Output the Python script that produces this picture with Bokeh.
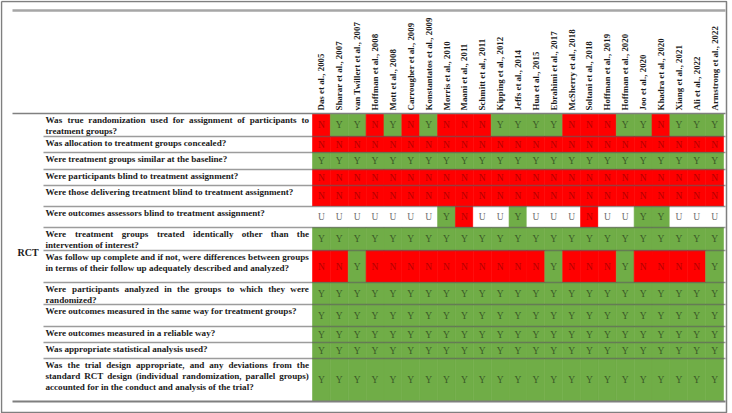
import math
from bokeh.plotting import figure
from bokeh.models import ColumnDataSource, Range1d
from bokeh.embed import file_html
from bokeh.resources import INLINE
from bokeh.core.properties import value

# ---------------- data ----------------
studies = [
    "Das et al., 2005", "Sharar et al., 2007", "van Twillert et al., 2007",
    "Hoffman et al., 2008", "Mott et al., 2008", "Carrougher et al., 2009",
    "Konstantatos et al., 2009", "Morris et al., 2010", "Maani et al., 2011",
    "Schmitt et al., 2011", "Kipping et al., 2012", "Jeffs et al., 2014",
    "Hua et al., 2015", "Ebrahimi  et al., 2017", "McSherry et al., 2018",
    "Soltani et al., 2018", "Hoffman  et al., 2019", "Hoffman  et al., 2020",
    "Joo et al., 2020", "Khadra et al., 2020", "Xiang et al., 2021",
    "Ali et al., 2022", "Armstrong  et al., 2022",
]

questions = [
    "Was true randomization used for assignment of participants to\ntreatment groups?",
    "Was allocation to treatment groups concealed?",
    "Were treatment groups similar at the baseline?",
    "Were participants blind to treatment assignment?",
    "Were those delivering treatment blind to treatment assignment?",
    "Were outcomes assessors blind to treatment assignment?",
    "Were treatment groups treated identically other than the\nintervention of interest?",
    "Was follow up complete and if not, were differences between groups\nin terms of their follow up adequately described and analyzed?",
    "Were participants analyzed in the groups to which they were\nrandomized?",
    "Were outcomes measured in the same way for treatment groups?",
    "Were outcomes measured in a reliable way?",
    "Was appropriate statistical analysis used?",
    "Was the trial design appropriate, and any deviations from the\nstandard RCT design (individual randomization, parallel groups)\naccounted for in the conduct and analysis of the trial?",
]

ratings = [
    "NYYNYNYNNNYYYYNNNYYNYYY",
    "NNNNNNNNNNNNNNNNNNNNNNN",
    "YYYYYYYYYYYYYYYYYYYYYYY",
    "NNNNNNNNNNNNNNNNNNNNNNN",
    "NNNNNNNNNNNNNNNNNNNNNNN",
    "UUUUUUUYNUUYUUUNUUYYUUU",
    "YYYYYYYYYYYYYYYYYYYYYYY",
    "NNYNNNNNNNNNNYNNNYNNNNY",
    "YYYYYYYYYYYYYYYYYYYYYYY",
    "YYYYYYYYYYYYYYYYYYYYYYY",
    "YYYYYYYYYYYYYYYYYYYYYYY",
    "YYYYYYYYYYYYYYYYYYYYYYY",
    "YYYYYYYYYYYYYYYYYYYYYYY",
]

group_label = "RCT"

# ---------------- layout / style ----------------
W, H = 732, 413
COL0, COL1 = 312, 723
COLW = (COL1 - COL0) / len(studies)
ROW_EDGES = [113, 136, 152, 169, 185, 206, 227, 250, 282, 304, 326, 342, 358, 401]
TEXT_X, TEXT_RIGHT = 45, 308.5
RULE_X0, RULE_X1 = 12, 725
SEP_X0 = 43
TOP_RULE_Y = 10
HEADER_BASE_Y = 110
GROUP_X, GROUP_Y = 17, 252
LINE_H = 10.8
FIRST_LINE = 6.5
FRAME = (1, 726, 1, 412)
Q_SIZE = 9.1

FILL = {"Y": "#70AD47", "N": "#FF0000", "U": "#FFFFFF"}
INK = {"Y": "#3B5A28", "N": "#B40000", "U": "#6E6E6E"}
FONT = value("Liberation Serif")

# Times-Bold advance widths (1/1000 em), used to justify lines like the source
_TB = {" ": 250, ",": 250, ".": 250, "?": 500, "(": 333, ")": 333, "-": 333,
       "R": 722, "C": 722, "T": 667, "W": 1000,
       "a": 500, "b": 556, "c": 444, "d": 556, "e": 444, "f": 333, "g": 500,
       "h": 556, "i": 278, "j": 333, "k": 556, "l": 278, "m": 833, "n": 556,
       "o": 500, "p": 556, "q": 556, "r": 444, "s": 389, "t": 333, "u": 556,
       "v": 500, "w": 722, "x": 500, "y": 500, "z": 444}


def text_w(s, size):
    return sum(_TB.get(ch, 556) for ch in s) * size / 1000.0


p = figure(width=W, height=H, output_backend="svg", toolbar_location=None,
           x_range=Range1d(0, W), y_range=Range1d(H, 0),
           x_axis_type=None, y_axis_type=None, min_border=0,
           outline_line_color=None)
p.grid.visible = False
p.background_fill_color = "white"

# outer frame
fx0, fx1, fy0, fy1 = FRAME
p.multi_line(xs=[[fx0, fx1, fx1, fx0, fx0]], ys=[[fy0, fy0, fy1, fy1, fy0]],
             line_color="#7F7F7F", line_width=1.5)

# cells
left, right, top, bottom, fill, cx, cy, txt, ink = [], [], [], [], [], [], [], [], []
for r, row in enumerate(ratings):
    for c, v in enumerate(row):
        l = COL0 + c * COLW
        left.append(l); right.append(l + COLW)
        top.append(ROW_EDGES[r]); bottom.append(ROW_EDGES[r + 1])
        fill.append(FILL[v])
        cx.append(l + COLW / 2); cy.append((ROW_EDGES[r] + ROW_EDGES[r + 1]) / 2)
        txt.append(v); ink.append(INK[v])
cells = ColumnDataSource(dict(left=left, right=right, top=top, bottom=bottom,
                              fill=fill, cx=cx, cy=cy, txt=txt, ink=ink))
p.quad(left="left", right="right", top="top", bottom="bottom", source=cells,
       fill_color="fill", line_color="fill", line_width=0.6)
p.text(x="cx", y="cy", text="txt", source=cells, text_color="ink",
       text_font=FONT, text_font_size="9.5px", text_align="center",
       text_baseline="middle")

# horizontal rules
p.segment(x0=[RULE_X0], x1=[RULE_X1], y0=[TOP_RULE_Y], y1=[TOP_RULE_Y],
          line_color="#A6A6A6", line_width=2.5)
p.segment(x0=[RULE_X0], x1=[RULE_X1], y0=[ROW_EDGES[0]], y1=[ROW_EDGES[0]],
          line_color="#808080", line_width=1.3)
inner = ROW_EDGES[1:-1]
p.segment(x0=[SEP_X0] * len(inner), x1=[RULE_X1] * len(inner), y0=inner, y1=inner,
          line_color="#5A5A5A", line_alpha=0.6, line_width=1.5)
p.segment(x0=[RULE_X0], x1=[RULE_X1], y0=[ROW_EDGES[-1]], y1=[ROW_EDGES[-1]],
          line_color="#7F7F7F", line_width=1.8)

# question texts (all lines but the last of each question are justified)
qx, qy, qt = [], [], []
for r, q in enumerate(questions):
    lines = q.split("\n")
    for k, line in enumerate(lines):
        y = ROW_EDGES[r] + FIRST_LINE + k * LINE_H
        if k < len(lines) - 1:
            words = line.split(" ")
            widths = [text_w(wd, Q_SIZE) for wd in words]
            gap = (TEXT_RIGHT - TEXT_X - sum(widths)) / (len(words) - 1)
            x = TEXT_X
            for wd, ww in zip(words, widths):
                qx.append(x); qy.append(y); qt.append(wd)
                x += ww + gap
        else:
            qx.append(TEXT_X); qy.append(y); qt.append(line)
p.text(x=qx, y=qy, text=qt, text_font=FONT, text_font_style="bold",
       text_font_size=f"{Q_SIZE}px", text_color="#1A1A1A", text_align="left",
       text_baseline="middle")

# study headers
hx = [COL0 + (i + 0.5) * COLW for i in range(len(studies))]
p.text(x=hx, y=[HEADER_BASE_Y] * len(studies), text=studies, angle=math.pi / 2,
       text_font=FONT, text_font_style="bold", text_font_size="8.9px",
       text_color="#1A1A1A", text_align="left", text_baseline="middle")

# group label
p.text(x=[GROUP_X], y=[GROUP_Y], text=[group_label], text_font=FONT,
       text_font_style="bold", text_font_size="10px", text_color="#1A1A1A",
       text_align="left", text_baseline="middle")

open("out.html", "w").write(file_html(p, INLINE))
